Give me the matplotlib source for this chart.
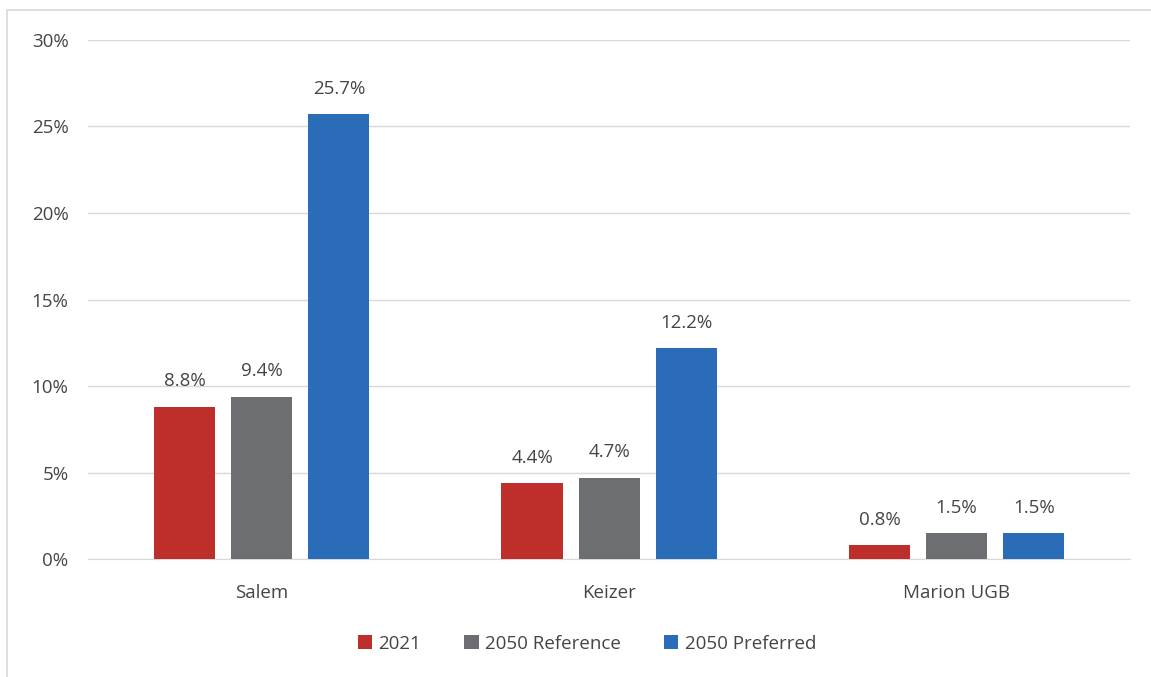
import numpy as np
import matplotlib.pyplot as plt
from matplotlib.patches import Rectangle

# Share of jobs by area
areas = ["Salem", "Keizer", "Marion UGB"]
series = ["2021", "2050 Reference", "2050 Preferred"]
v2021 = [8.8, 4.4, 0.8]
v2050_ref = [9.4, 4.7, 1.5]
v2050_pref = [25.7, 12.2, 1.5]
colors = ["#BE2E2A", "#6D6E71", "#2B6CB8"]

plt.rcParams['font.family'] = ['Open Sans', 'DejaVu Sans']
text_color = "#454545"

fig = plt.figure(figsize=(11.51, 6.77), dpi=100)
ax = fig.add_axes([0.0765, 0.174, 0.9055, 0.767])

x = np.arange(len(areas))
width = 0.176
step = 0.222
for i, (vals, name) in enumerate(zip([v2021, v2050_ref, v2050_pref], series)):
    pos = x + (i - 1) * step
    ax.bar(pos, vals, width, color=colors[i], label=name, zorder=3)
    for px, v in zip(pos, vals):
        ax.text(px, v + 0.95, f"{v:.1f}%", ha='center', va='bottom',
                fontsize=13.5, color=text_color)

ax.set_xlim(-0.5, 2.5)
ax.set_ylim(0, 30)
ax.set_yticks(range(0, 31, 5))
ax.set_yticklabels([f"{t}%" for t in range(0, 31, 5)])
ax.set_xticks(x)
ax.set_xticklabels(areas)
ax.tick_params(axis='both', length=0, labelsize=13.5, colors=text_color)
ax.tick_params(axis='y', pad=14)
ax.tick_params(axis='x', pad=18)
ax.grid(axis='y', color="#D9D9D9", linewidth=1, zorder=0)
for s in ['top', 'right', 'left']:
    ax.spines[s].set_visible(False)
ax.spines['bottom'].set_color("#D9D9D9")
ax.spines['bottom'].set_zorder(0)

fig.legend(loc='center', bbox_to_anchor=(0.51, 0.049), ncol=3, frameon=False,
           fontsize=13.5, handlelength=0.75, handleheight=0.75, handletextpad=0.35,
           columnspacing=2.3, labelcolor=text_color)

# outer chart border
fig.patches.append(Rectangle((7 / 1151, -0.1), 1.2, 1 - 10 / 677 + 0.1,
                             transform=fig.transFigure, fill=False,
                             edgecolor="#D9D9D9", linewidth=1.2))

fig.savefig("out.png", dpi=100)
